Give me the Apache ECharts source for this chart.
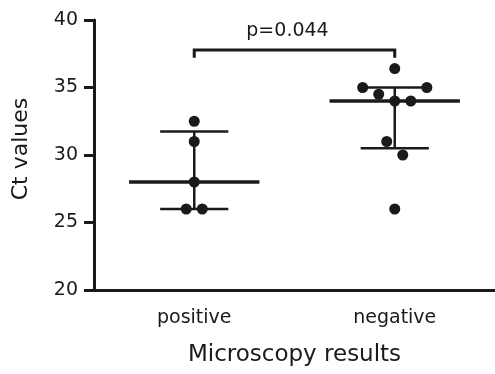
<!DOCTYPE html>
<html>
<head>
<meta charset="utf-8">
<script src="https://cdn.jsdelivr.net/npm/echarts@6/dist/echarts.min.js"></script>
<style>html,body{margin:0;padding:0;background:#fff}#c{width:495px;height:374px}</style>
</head>
<body>
<div id="c"></div>
<script>
const categories = ['positive', 'negative'];
const positiveValues = [32.5, 31, 28, 26, 26];
const positiveJitter = [0, 0, 0, -0.04, 0.04];
const negativeValues = [36.4, 35, 35, 34.5, 34, 34, 31, 30, 26];
const negativeJitter = [0, -0.16, 0.16, -0.08, 0, 0.08, -0.04, 0.04, 0];
const medians = [28, 34];
const iqrLow = [26, 30.5];
const iqrHigh = [31.75, 35];
const yMin = 20, yMax = 40, yInterval = 5;
const bracketFrom = 0, bracketTo = 1, bracketTop = 37.78, bracketLegBottom = 37.2;
const pValueLabel = 'p=0.044';
const xTitle = 'Microscopy results';
const yTitle = 'Ct values';

const FONT = 'DejaVu Sans';
const INK = '#1a1a1a';

const scatterData = [];
positiveValues.forEach((v, i) => scatterData.push([0 + positiveJitter[i], v]));
negativeValues.forEach((v, i) => scatterData.push([1 + negativeJitter[i], v]));

const summaryData = categories.map((c, i) => [i, medians[i], iqrLow[i], iqrHigh[i]]);

const chart = echarts.init(document.getElementById('c'), null, {renderer: 'canvas'});
chart.setOption({
  animation: false,
  backgroundColor: '#fff',
  grid: {left: 94, top: 20, bottom: 84, right: -3, containLabel: false},
  xAxis: [{
    type: 'category',
    data: categories,
    boundaryGap: true,
    name: xTitle,
    nameLocation: 'middle',
    nameGap: 54,
    nameTextStyle: {fontFamily: FONT, fontSize: 23, color: '#1a1a1a'},
    axisLine: {onZero: false, lineStyle: {color: INK, width: 3}},
    axisTick: {alignWithLabel: true, length: 9, lineStyle: {color: INK, width: 3}},
    axisLabel: {fontFamily: FONT, fontSize: 19, color: '#1a1a1a', margin: 19},
    splitLine: {show: false}
  }, {
    type: 'value',
    min: -0.5, max: 1.5,
    show: false
  }],
  yAxis: {
    type: 'value',
    min: yMin, max: yMax, interval: yInterval,
    name: yTitle,
    nameLocation: 'middle',
    nameGap: 62,
    nameTextStyle: {fontFamily: FONT, fontSize: 22, color: '#1a1a1a', padding: [0, 0, 0, 12]},
    axisLine: {show: true, onZero: false, lineStyle: {color: INK, width: 3}},
    axisTick: {show: true, length: 10, lineStyle: {color: INK, width: 3}},
    axisLabel: {fontFamily: FONT, fontSize: 19, color: '#1a1a1a', margin: 16},
    splitLine: {show: false}
  },
  series: [{
    type: 'custom',
    xAxisIndex: 1,
    data: summaryData,
    encode: {x: 0, y: [1, 2, 3]},
    clip: false,
    renderItem: function (params, api) {
      const x = api.value(0);
      const med = api.value(1), lo = api.value(2), hi = api.value(3);
      const mL = api.coord([x - 0.325, med]), mR = api.coord([x + 0.325, med]);
      const lL = api.coord([x - 0.17, lo]), lR = api.coord([x + 0.17, lo]);
      const hL = api.coord([x - 0.17, hi]), hR = api.coord([x + 0.17, hi]);
      const vT = api.coord([x, hi]), vB = api.coord([x, lo]);
      const st = {stroke: INK, lineWidth: 2.5};
      return {type: 'group', children: [
        {type: 'line', shape: {x1: vT[0], y1: vT[1], x2: vB[0], y2: vB[1]}, style: st},
        {type: 'line', shape: {x1: hL[0], y1: hL[1], x2: hR[0], y2: hR[1]}, style: st},
        {type: 'line', shape: {x1: lL[0], y1: lL[1], x2: lR[0], y2: lR[1]}, style: st},
        {type: 'line', shape: {x1: mL[0], y1: mL[1], x2: mR[0], y2: mR[1]}, style: {stroke: INK, lineWidth: 3.5}}
      ]};
    },
    z: 2
  }, {
    type: 'scatter',
    xAxisIndex: 1,
    data: scatterData,
    symbol: 'circle',
    symbolSize: 11,
    itemStyle: {color: INK, opacity: 1},
    z: 3
  }, {
    type: 'custom',
    xAxisIndex: 1,
    data: [[bracketFrom, bracketTo, bracketLegBottom, bracketTop]],
    encode: {x: [0, 1], y: [2, 3]},
    clip: false,
    renderItem: function (params, api) {
      const a = api.value(0), b = api.value(1), bot = api.value(2), top = api.value(3);
      const p1 = api.coord([a, bot]), p2 = api.coord([a, top]);
      const p3 = api.coord([b, top]), p4 = api.coord([b, bot]);
      const mid = api.coord([(a + b) / 2, top]);
      return {type: 'group', children: [
        {type: 'polyline', shape: {points: [p1, p2, p3, p4]}, style: {stroke: INK, lineWidth: 3, fill: null}},
        {type: 'text', x: mid[0] - 7, y: mid[1] - 9, style: {text: pValueLabel, fontFamily: FONT, fontSize: 19, fill: '#1a1a1a', align: 'center', verticalAlign: 'bottom'}}
      ]};
    },
    z: 2
  }]
});
</script>
</body>
</html>
